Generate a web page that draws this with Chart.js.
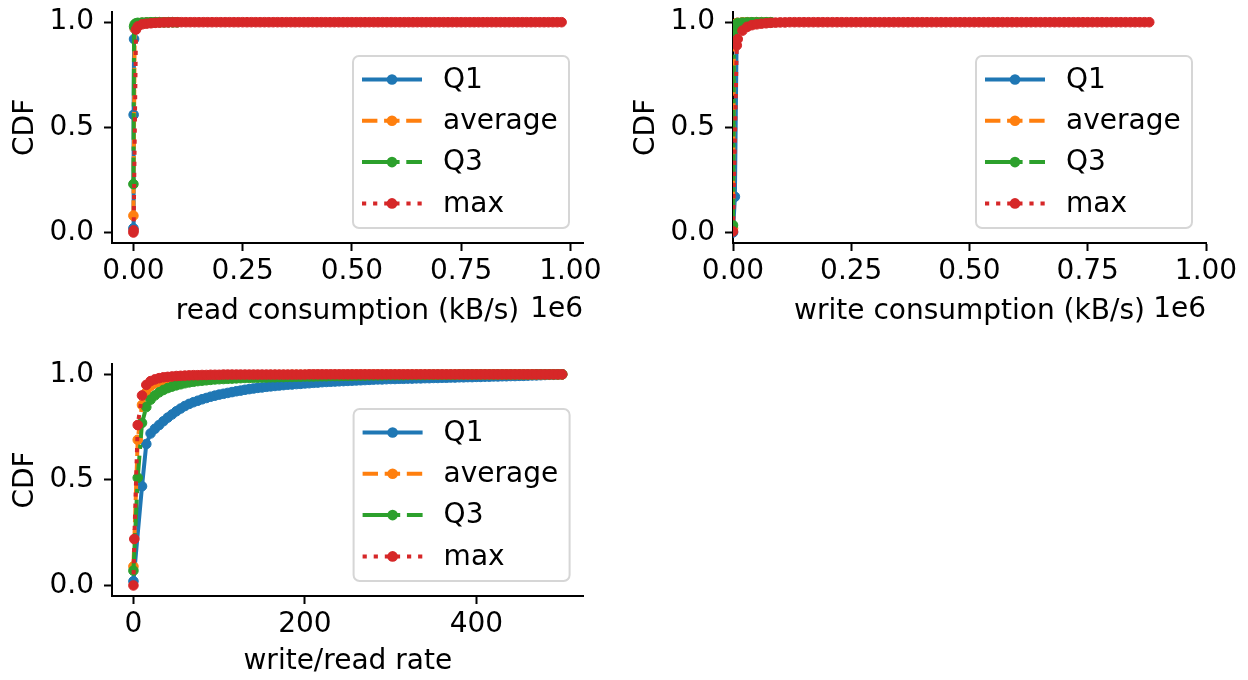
<!DOCTYPE html>
<html>
<head>
<meta charset="utf-8">
<script src="https://cdn.jsdelivr.net/npm/chart.js@4.4.1/dist/chart.umd.min.js"></script>
<style>
  body { margin: 0; background: #fff; }
  canvas { position: absolute; }
</style>
</head>
<body>
<canvas id="readChart" width="624" height="340" style="left:0;top:0"></canvas>
<canvas id="writeChart" width="627" height="340" style="left:621px;top:0"></canvas>
<canvas id="rateChart" width="624" height="340" style="left:0;top:340px"></canvas>
<script>
// series names and colours (matplotlib tab10)
const seriesNames = ['Q1', 'average', 'Q3', 'max'];
const colors = ['#1f77b4', '#ff7f0e', '#2ca02c', '#d62728'];
const dashes = [[], [15.4, 6.7], [26.7, 6.7, 4.2, 6.7], [4.2, 6.9]];

const yTicks = [0, 0.5, 1];

// --- read consumption (kB/s) ---
const readX = [
  0, 500, 1500, 3000, 6000,
  10000, 20000, 30000, 40000, 50000, 60000, 70000, 80000, 90000, 100000,
  110000, 120000, 130000, 140000, 150000, 160000, 170000, 180000, 190000, 200000,
  210000, 220000, 230000, 240000, 250000, 260000, 270000, 280000, 290000, 300000,
  310000, 320000, 330000, 340000, 350000, 360000, 370000, 380000, 390000, 400000,
  410000, 420000, 430000, 440000, 450000, 460000, 470000, 480000, 490000, 500000,
  510000, 520000, 530000, 540000, 550000, 560000, 570000, 580000, 590000, 600000,
  610000, 620000, 630000, 640000, 650000, 660000, 670000, 680000, 690000, 700000,
  710000, 720000, 730000, 740000, 750000, 760000, 770000, 780000, 790000, 800000,
  810000, 820000, 830000, 840000, 850000, 860000, 870000, 880000, 890000, 900000,
  910000, 920000, 930000, 940000, 950000, 960000, 970000, 980000
];
const readQ1 = [0.02, 0.56, 0.92, 0.97, 0.99, 0.995, 0.997, 0.998, 0.999, 1, 1, 1, 1, 1, 1];
const readAvg = [0.08, null, null, 0.97, 0.99, 0.995, 0.997, 0.998, 0.999, 1, 1, 1, 1, 1, 1];
const readQ3 = [0.23, null, 0.98, 0.99, 0.995, 0.997, 0.998, 0.999, 1, 1, 1, 1, 1, 1, 1];
const readMax = [
  0, 0.01, null, null, 0.965,
  0.98, 0.99, 0.993, 0.995, 0.997, 0.998, 0.999, 0.999, 1, 1,
  1, 1, 1, 1, 1, 1, 1, 1, 1, 1,
  1, 1, 1, 1, 1, 1, 1, 1, 1, 1,
  1, 1, 1, 1, 1, 1, 1, 1, 1, 1,
  1, 1, 1, 1, 1, 1, 1, 1, 1, 1,
  1, 1, 1, 1, 1, 1, 1, 1, 1, 1,
  1, 1, 1, 1, 1, 1, 1, 1, 1, 1,
  1, 1, 1, 1, 1, 1, 1, 1, 1, 1,
  1, 1, 1, 1, 1, 1, 1, 1, 1, 1,
  1, 1, 1, 1, 1, 1, 1, 1
];

// --- write consumption (kB/s) ---
const writeX = [
  0, 2000, 4000, 8000,
  10000, 20000, 30000, 40000, 50000, 60000, 70000, 80000, 90000, 100000,
  110000, 120000, 130000, 140000, 150000, 160000, 170000, 180000, 190000, 200000,
  210000, 220000, 230000, 240000, 250000, 260000, 270000, 280000, 290000, 300000,
  310000, 320000, 330000, 340000, 350000, 360000, 370000, 380000, 390000, 400000,
  410000, 420000, 430000, 440000, 450000, 460000, 470000, 480000, 490000, 500000,
  510000, 520000, 530000, 540000, 550000, 560000, 570000, 580000, 590000, 600000,
  610000, 620000, 630000, 640000, 650000, 660000, 670000, 680000, 690000, 700000,
  710000, 720000, 730000, 740000, 750000, 760000, 770000, 780000, 790000, 800000,
  810000, 820000, 830000, 840000, 850000, 860000, 870000, 880000
];
const writeQ1 = [0, null, 0.17, 0.995, 0.997, 0.999, 1, 1, 1, 1, 1, 1];
const writeAvg = [0.02, 0.97, 0.99, 0.996, 0.997, 0.999, 1, 1, 1, 1, 1, 1];
const writeQ3 = [0.035, 0.96, 0.985, 0.993, 0.995, 0.998, 0.999, 1, 1, 1, 1, 1];
const writeMax = [
  0.005, null, null, 0.89,
  0.92, 0.96, 0.978, 0.986, 0.99, 0.993, 0.995, 0.997, 0.998, 0.999,
  0.999, 1, 1, 1, 1, 1, 1, 1, 1, 1,
  1, 1, 1, 1, 1, 1, 1, 1, 1, 1,
  1, 1, 1, 1, 1, 1, 1, 1, 1, 1,
  1, 1, 1, 1, 1, 1, 1, 1, 1, 1,
  1, 1, 1, 1, 1, 1, 1, 1, 1, 1,
  1, 1, 1, 1, 1, 1, 1, 1, 1, 1,
  1, 1, 1, 1, 1, 1, 1, 1, 1, 1,
  1, 1, 1, 1, 1, 1, 1, 1
];

// --- write/read rate ---
const rateX = [
  0, 1,
  5, 10, 15, 20, 25, 30, 35, 40, 45, 50,
  55, 60, 65, 70, 75, 80, 85, 90, 95, 100,
  105, 110, 115, 120, 125, 130, 135, 140, 145, 150,
  155, 160, 165, 170, 175, 180, 185, 190, 195, 200,
  205, 210, 215, 220, 225, 230, 235, 240, 245, 250,
  255, 260, 265, 270, 275, 280, 285, 290, 295, 300,
  305, 310, 315, 320, 325, 330, 335, 340, 345, 350,
  355, 360, 365, 370, 375, 380, 385, 390, 395, 400,
  405, 410, 415, 420, 425, 430, 435, 440, 445, 450,
  455, 460, 465, 470, 475, 480, 485, 490, 495, 500
];
const rateQ1 = [
  0.02, null,
  null, 0.47, 0.67, 0.72, 0.742, 0.76, 0.778, 0.795, 0.81, 0.825,
  0.838, 0.85, 0.86, 0.868, 0.875, 0.882, 0.888, 0.894, 0.899, 0.904,
  0.908, 0.912, 0.916, 0.92, 0.923, 0.927, 0.93, 0.933, 0.936, 0.938,
  0.941, 0.943, 0.945, 0.947, 0.949, 0.951, 0.952, 0.954, 0.955, 0.957,
  0.958, 0.96, 0.961, 0.963, 0.964, 0.965, 0.966, 0.967, 0.968, 0.969,
  0.97, 0.971, 0.972, 0.973, 0.974, 0.975, 0.976, 0.976, 0.977, 0.978,
  0.978, 0.979, 0.979, 0.98, 0.98, 0.981, 0.981, 0.982, 0.982, 0.983,
  0.983, 0.984, 0.984, 0.985, 0.985, 0.986, 0.986, 0.987, 0.987, 0.988,
  0.988, 0.989, 0.989, 0.99, 0.99, 0.991, 0.991, 0.992, 0.992, 0.993,
  0.993, 0.994, 0.995, 0.995, 0.996, 0.997, 0.998, 0.998, 0.999, 1
];
const rateAvg = [
  0.09, null,
  0.69, 0.855, 0.915, 0.945, 0.957, 0.965, 0.971, 0.976, 0.979, 0.982,
  0.984, 0.986, 0.988, 0.989, 0.99, 0.991, 0.991, 0.992, 0.992, 0.993,
  0.993, 0.994, 0.994, 0.994, 0.995, 0.995, 0.995, 0.996, 0.996, 0.996,
  0.996, 0.997, 0.997, 0.997, 0.997, 0.997, 0.998, 0.998, 0.998, 0.998,
  0.998, 0.998, 0.998, 0.998, 0.998, 0.998, 0.998, 0.998, 0.998, 0.998,
  0.999, 0.999, 0.999, 0.999, 0.999, 0.999, 0.999, 0.999, 0.999, 0.999,
  0.999, 0.999, 0.999, 0.999, 0.999, 0.999, 0.999, 0.999, 0.999, 0.999,
  0.999, 0.999, 0.999, 0.999, 0.999, 1, 1, 1, 1, 1,
  1, 1, 1, 1, 1, 1, 1, 1, 1, 1,
  1, 1, 1, 1, 1, 1, 1, 1, 1, 1
];
const rateQ3 = [
  0.07, null,
  0.51, 0.77, 0.845, 0.88, 0.9, 0.915, 0.926, 0.935, 0.942, 0.948,
  0.953, 0.958, 0.962, 0.965, 0.968, 0.97, 0.972, 0.974, 0.976, 0.977,
  0.978, 0.979, 0.98, 0.981, 0.982, 0.983, 0.983, 0.984, 0.984, 0.985,
  0.985, 0.986, 0.986, 0.987, 0.987, 0.988, 0.988, 0.989, 0.989, 0.99,
  0.99, 0.99, 0.991, 0.991, 0.991, 0.992, 0.992, 0.992, 0.993, 0.993,
  0.993, 0.994, 0.994, 0.994, 0.995, 0.995, 0.995, 0.995, 0.996, 0.996,
  0.996, 0.996, 0.996, 0.997, 0.997, 0.997, 0.997, 0.997, 0.998, 0.998,
  0.998, 0.998, 0.998, 0.998, 0.998, 0.999, 0.999, 0.999, 0.999, 0.999,
  0.999, 0.999, 0.999, 0.999, 0.999, 0.999, 0.999, 0.999, 0.999, 0.999,
  0.999, 0.999, 0.999, 1, 1, 1, 1, 1, 1, 1
];
const rateMax = [
  0, 0.22,
  0.76, 0.9, 0.95, 0.968, 0.976, 0.982, 0.986, 0.988, 0.99, 0.992,
  0.993, 0.994, 0.995, 0.996, 0.996, 0.997, 0.997, 0.998, 0.998, 0.998,
  0.999, 0.999, 0.999, 0.999, 0.999, 0.999, 0.999, 0.999, 0.999, 0.999,
  0.999, 0.999, 0.999, 0.999, 0.999, 0.999, 0.999, 0.999, 0.999, 0.999,
  1, 1, 1, 1, 1, 1, 1, 1, 1, 1,
  1, 1, 1, 1, 1, 1, 1, 1, 1, 1,
  1, 1, 1, 1, 1, 1, 1, 1, 1, 1,
  1, 1, 1, 1, 1, 1, 1, 1, 1, 1,
  1, 1, 1, 1, 1, 1, 1, 1, 1, 1,
  1, 1, 1, 1, 1, 1, 1, 1, 1, 1
];

Chart.defaults.font.family = '"DejaVu Sans", sans-serif';
Chart.defaults.font.size = 28;
Chart.defaults.color = '#000';

// matplotlib style legend, lower right of the axes
const cdfLegend = {
  id: 'cdfLegend',
  afterDraw(chart) {
    const ctx = chart.ctx;
    const area = chart.chartArea;
    const w = 216, h = 172, r = 6;
    const right = area.right - 14, bottom = area.bottom - 15;
    const left = right - w, top = bottom - h;
    ctx.save();
    ctx.beginPath();
    ctx.moveTo(left + r, top);
    ctx.arcTo(right, top, right, bottom, r);
    ctx.arcTo(right, bottom, left, bottom, r);
    ctx.arcTo(left, bottom, left, top, r);
    ctx.arcTo(left, top, right, top, r);
    ctx.closePath();
    ctx.fillStyle = 'rgba(255,255,255,0.8)';
    ctx.fill();
    ctx.strokeStyle = '#d6d6d6';
    ctx.lineWidth = 2;
    ctx.stroke();
    chart.data.datasets.forEach((ds, i) => {
      const cy = top + 23.5 + i * 41.3;
      ctx.strokeStyle = ds.borderColor;
      ctx.lineWidth = 4;
      ctx.setLineDash(ds.borderDash);
      ctx.beginPath();
      ctx.moveTo(left + 9, cy);
      ctx.lineTo(left + 69, cy);
      ctx.stroke();
      ctx.setLineDash([]);
      ctx.fillStyle = ds.borderColor;
      ctx.beginPath();
      ctx.arc(left + 39, cy, 5.3, 0, Math.PI * 2);
      ctx.fill();
      ctx.fillStyle = '#000';
      ctx.font = '28px "DejaVu Sans"';
      ctx.textBaseline = 'middle';
      ctx.textAlign = 'left';
      ctx.fillText(ds.label, left + 90, cy + 1);
    });
    ctx.restore();
  }
};

// the "1e6" offset label under the right end of the x axis
const offsetText = {
  id: 'offsetText',
  afterDraw(chart, args, opts) {
    if (!opts.text) return;
    const ctx = chart.ctx;
    ctx.save();
    ctx.font = '28px "DejaVu Sans"';
    ctx.fillStyle = '#000';
    ctx.textAlign = 'right';
    ctx.textBaseline = 'middle';
    ctx.fillText(opts.text, chart.chartArea.right, opts.y);
    ctx.restore();
  }
};

function makeChart(id, xs, ysList, cfg) {
  const datasets = seriesNames.map((name, i) => ({
    label: name,
    data: ysList[i].map((y, j) => ({ x: xs[j], y: y })),
    borderColor: colors[i],
    backgroundColor: colors[i],
    pointBackgroundColor: colors[i],
    pointBorderColor: colors[i],
    borderWidth: 4,
    borderDash: dashes[i],
    borderJoinStyle: 'round',
    pointRadius: 4.8,
    pointBorderWidth: 1,
    pointHoverRadius: 4.8,
    tension: 0,
    fill: false,
    spanGaps: true,
    order: 3 - i
  }));
  return new Chart(document.getElementById(id).getContext('2d'), {
    type: 'line',
    data: { datasets: datasets },
    options: {
      responsive: false,
      animation: false,
      devicePixelRatio: 1,
      events: [],
      layout: { padding: { left: 0, right: cfg.padRight, top: cfg.padTop, bottom: 0 } },
      plugins: {
        legend: { display: false },
        tooltip: { enabled: false },
        offsetText: { text: cfg.offset, y: 310 }
      },
      scales: {
        x: {
          type: 'linear',
          min: cfg.xMin,
          max: cfg.xMax,
          z: 1,
          afterBuildTicks: s => { s.ticks = cfg.xTicks.map(v => ({ value: v })); },
          afterFit: s => { s.height = cfg.xHeight; s.paddingLeft = 0; s.paddingRight = 0; },
          grid: { drawOnChartArea: false, drawTicks: true, tickLength: 8, tickWidth: 2, tickColor: '#000' },
          border: { display: true, color: '#000', width: 2 },
          ticks: { padding: 4, color: '#000', maxRotation: 0, autoSkip: false, callback: cfg.xFmt },
          title: { display: true, text: cfg.xTitle, color: '#000', padding: { top: 0, bottom: cfg.titlePad } }
        },
        y: {
          min: -0.05,
          max: 1.05,
          z: 1,
          afterBuildTicks: s => { s.ticks = yTicks.map(v => ({ value: v })); },
          afterFit: s => { s.width = 112; s.paddingTop = 0; s.paddingBottom = 0; },
          grid: { drawOnChartArea: false, drawTicks: true, tickLength: 8, tickWidth: 2, tickColor: '#000' },
          border: { display: true, color: '#000', width: 2 },
          ticks: { padding: 10, color: '#000', callback: v => v.toFixed(1) },
          title: { display: true, text: 'CDF', color: '#000', padding: { top: 9.2, bottom: 0 } }
        }
      }
    },
    plugins: [cdfLegend, offsetText]
  });
}

const sciFmt = v => (v / 1e6).toFixed(2);

makeChart('readChart', readX, [readQ1, readAvg, readQ3, readMax], {
  xMin: -49000, xMax: 1029000, xTicks: [0, 250000, 500000, 750000, 1000000],
  xFmt: sciFmt, xTitle: 'read consumption (kB/s)', offset: '1e6',
  padTop: 11.7, padRight: 41, xHeight: 97, titlePad: 11.2
});

makeChart('writeChart', writeX, [writeQ1, writeAvg, writeQ3, writeMax], {
  xMin: 0, xMax: 1000000, xTicks: [0, 250000, 500000, 750000, 1000000],
  xFmt: sciFmt, xTitle: 'write consumption (kB/s)', offset: '1e6',
  padTop: 11.7, padRight: 42, xHeight: 97, titlePad: 11.2
});

makeChart('rateChart', rateX, [rateQ1, rateAvg, rateQ3, rateMax], {
  xMin: -25, xMax: 525, xTicks: [0, 200, 400],
  xFmt: v => String(v), xTitle: 'write/read rate', offset: '',
  padTop: 23.8, padRight: 40.4, xHeight: 84, titlePad: 1.2
});
</script>
</body>
</html>
